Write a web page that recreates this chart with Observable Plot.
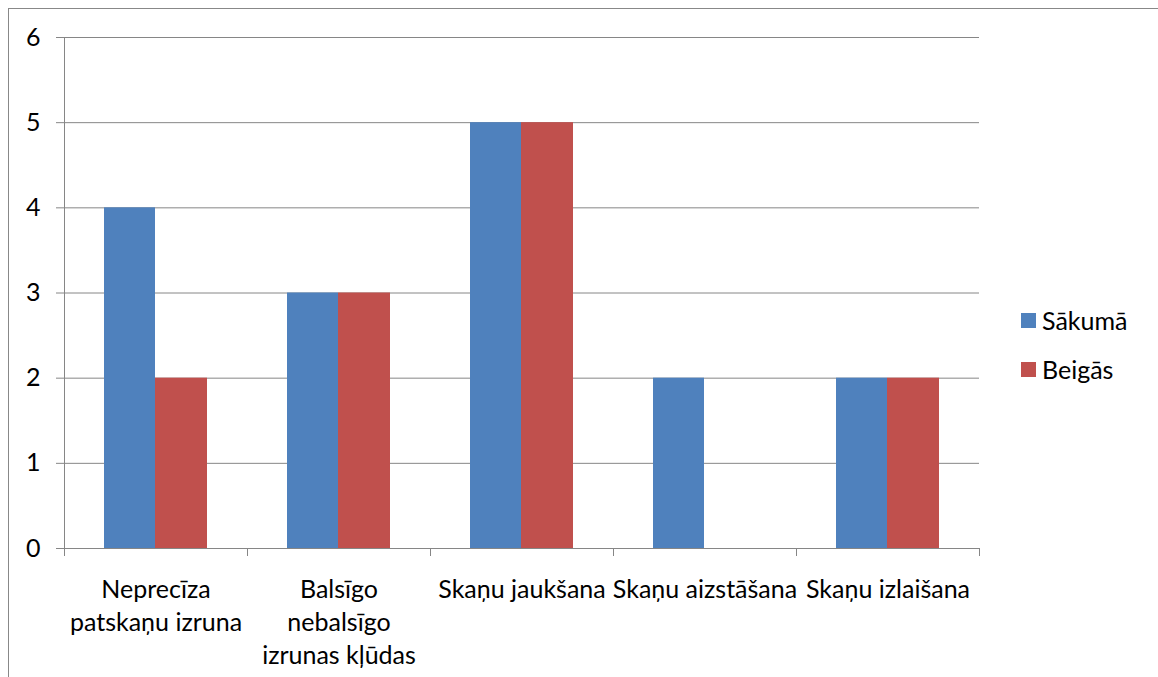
<!DOCTYPE html>
<html>
<head>
<meta charset="utf-8">
<script src="https://cdn.jsdelivr.net/npm/d3@7"></script>
<script src="https://cdn.jsdelivr.net/npm/@observablehq/plot@0.6"></script>
<style>
  html, body { margin: 0; padding: 0; background: #fff; overflow: hidden; }
  body { width: 1158px; height: 677px; position: relative; font-family: Lato, "Noto Sans", sans-serif; }
  #chart { position: absolute; left: 0; top: 0; }
  #frame { position: absolute; left: 8px; top: 8px; width: 1300px; height: 800px; border: 1px solid #888; pointer-events: none; }
  #legend { position: absolute; left: 1021px; top: 302px; font-size: 25px; color: #000; }
  .item { display: flex; align-items: center; height: 36px; margin-bottom: 13px; }
  .sw { width: 15px; height: 15px; margin-right: 6px; }
</style>
</head>
<body>
<div id="chart"></div>
<div id="frame"></div>
<div id="legend"></div>
<script>
const categories = ["Neprecīza patskaņu izruna", "Balsīgo nebalsīgo izrunas kļūdas", "Skaņu jaukšana", "Skaņu aizstāšana", "Skaņu izlaišana"];
const tickLabels = ["Neprecīza\npatskaņu izruna", "Balsīgo\nnebalsīgo\nizrunas kļūdas", "Skaņu jaukšana", "Skaņu aizstāšana", "Skaņu izlaišana"];
const seriesNames = ["Sākumā", "Beigās"];
const sakuma = [4, 3, 5, 2, 2];
const beigas = [2, 3, 5, 0, 2];
const yTicks = [0, 1, 2, 3, 4, 5, 6];
const colors = ["#4F81BD", "#C0504D"];

const rowsA = categories.map((c, i) => ({category: c, value: sakuma[i]}));
const rowsB = categories.map((c, i) => ({category: c, value: beigas[i]}));
const labelOf = new Map(categories.map((c, i) => [c, tickLabels[i]]));
const grid = "#868686";

const chart = Plot.plot({
  width: 1158,
  height: 677,
  marginLeft: 64,
  marginRight: 179,
  marginTop: 37,
  marginBottom: 129,
  style: {fontFamily: "Lato, 'Noto Sans', sans-serif", fontSize: "25px", background: "transparent", color: "#000"},
  x: {domain: categories, padding: 0, axis: null},
  y: {domain: [0, 6], axis: null},
  marks: [
    Plot.gridY(yTicks, {stroke: grid, strokeOpacity: 1}),
    Plot.barY(rowsA, {x: "category", y: "value", fill: colors[0], insetLeft: 40, insetRight: 92}),
    Plot.barY(rowsB, {x: "category", y: "value", fill: colors[1], insetLeft: 91, insetRight: 40}),
    Plot.ruleY([0], {stroke: grid}),
    Plot.ruleX([categories[0]], {dx: -91.5, y1: 0, y2: 6, stroke: grid}),
    Plot.axisY(yTicks, {tickSize: 8, tickPadding: 16, tickFormat: d3.format("d"), stroke: grid, fill: "#000", fontSize: 25, label: null}),
    Plot.axisX(categories, {tickSize: 8, tickFormat: () => "", dx: -91.5, stroke: grid, label: null}),
    Plot.axisX([categories[categories.length - 1]], {tickSize: 8, tickFormat: () => "", dx: 91.5, stroke: grid, label: null}),
    Plot.axisX(categories, {tickSize: 0, tickPadding: 26, tickFormat: (d) => labelOf.get(d), lineHeight: 1.32, fill: "#000", fontSize: 25, label: null})
  ]
});
document.getElementById("chart").appendChild(chart);

const legend = document.getElementById("legend");
seriesNames.forEach((s, i) => {
  const item = document.createElement("div");
  item.className = "item";
  const sw = document.createElement("div");
  sw.className = "sw";
  sw.style.background = colors[i];
  const t = document.createElement("span");
  t.textContent = s;
  item.appendChild(sw);
  item.appendChild(t);
  legend.appendChild(item);
});
</script>
</body>
</html>
